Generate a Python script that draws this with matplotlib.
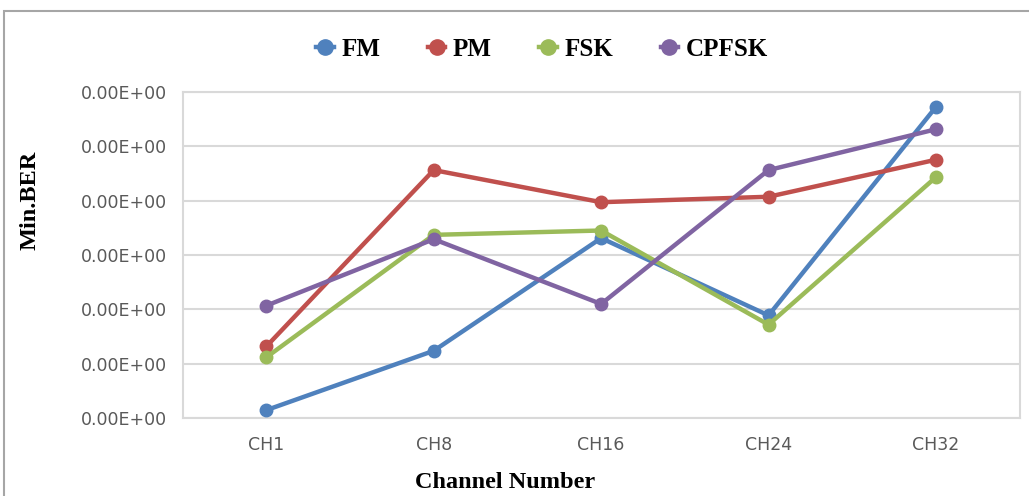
import matplotlib
matplotlib.use("Agg")
import matplotlib.pyplot as plt
from matplotlib.lines import Line2D
from matplotlib.patches import Rectangle

categories = ["CH1", "CH8", "CH16", "CH24", "CH32"]
fm = [0.15, 1.24, 3.31, 1.89, 5.72]
pm = [1.32, 4.56, 3.97, 4.07, 4.75]
fsk = [1.12, 3.37, 3.45, 1.72, 4.43]
cpfsk = [2.07, 3.29, 2.10, 4.56, 5.31]
series_names = ["FM", "PM", "FSK", "CPFSK"]
y_ticks = [0, 1, 2, 3, 4, 5, 6]
y_tick_labels = ["0.00E+00"] * 7

colors = ["#4F81BD", "#C0504D", "#9BBB59", "#8064A2"]

fig = plt.figure(figsize=(10.29, 4.96), dpi=100)
ax = fig.add_axes([0.1775, 0.1567, 0.8134, 0.6584])

x = list(range(len(categories)))
for vals, c in zip([fm, pm, fsk, cpfsk], colors):
    ax.plot(x, vals, color=c, lw=3.2, marker="o", ms=9, zorder=3)

ax.set_xlim(-0.5, len(categories) - 0.5)
ax.set_ylim(0, 6)
ax.set_yticks(y_ticks)
ax.set_yticklabels(y_tick_labels)
ax.set_xticks(x)
ax.set_xticklabels(categories)
ax.grid(axis="y", color="#D9D9D9", lw=1.5)
ax.set_axisbelow(True)
for s in ax.spines.values():
    s.set_color("#D9D9D9")
    s.set_linewidth(1.5)
ax.tick_params(length=0, labelcolor="#595959", labelsize=12.5)
ax.tick_params(axis="y", pad=11)
ax.tick_params(axis="x", pad=13)
for lbl in ax.get_xticklabels() + ax.get_yticklabels():
    lbl.set_fontfamily("DejaVu Sans")

fig.text(30 / 1029, 1 - 200 / 496, "Min.BER", rotation=90, ha="center", va="center",
         fontsize=17.5, fontweight="bold", family="Liberation Serif")
fig.text(505 / 1029, 1 - 482 / 496, "Channel Number", ha="center", va="center",
         fontsize=17.5, fontweight="bold", family="Liberation Serif")

handles = [Line2D([0], [0], color=c, lw=3.2, marker="o", ms=11) for c in colors]
leg = fig.legend(handles, series_names, loc="center", bbox_to_anchor=(542 / 1029, 1 - 49 / 496),
                 ncol=4, frameon=False, handlelength=0.7, handletextpad=0.3, columnspacing=1.9,
                 prop={"family": "Liberation Serif", "weight": "bold", "size": 18})

fig.patches.append(Rectangle((4 / 1029, -0.1), 1.2, 1 - 11 / 496 + 0.1, transform=fig.transFigure,
                             fill=False, edgecolor="#A6A6A6", lw=1.5))

fig.savefig("out.png", dpi=100)
